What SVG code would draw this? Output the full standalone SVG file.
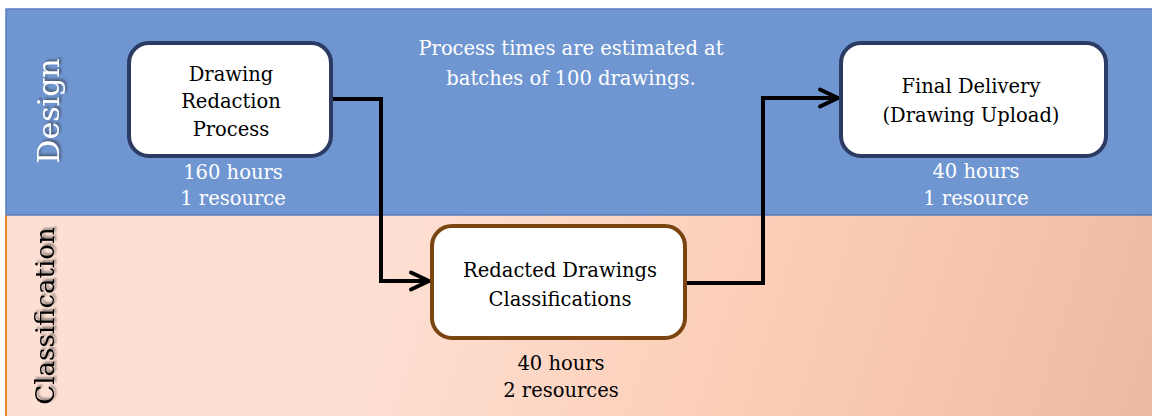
<svg xmlns="http://www.w3.org/2000/svg" width="1152" height="416" viewBox="0 0 1152 416">
  <defs>
    <linearGradient id="classGrad" gradientUnits="userSpaceOnUse" x1="380" y1="230" x2="1152" y2="470">
      <stop offset="0" stop-color="#FDE0D4"/>
      <stop offset="0.5" stop-color="#FCCDB5"/>
      <stop offset="1" stop-color="#EBB9A2"/>
    </linearGradient>
    <filter id="shadow" x="-20%" y="-20%" width="140%" height="140%">
      <feDropShadow dx="2" dy="2" stdDeviation="1.2" flood-color="#333333" flood-opacity="0.6"/>
    </filter>
    <marker id="arrow" viewBox="0 0 24 24" refX="21" refY="12" markerWidth="24" markerHeight="24" markerUnits="userSpaceOnUse" orient="auto">
      <path d="M3,3.5 L21,12 L3,20.5" fill="none" stroke="#000" stroke-width="4" stroke-linecap="round" stroke-linejoin="round"/>
    </marker>
  </defs>
  <style>
    .txt { font-family: "DejaVu Serif", "Liberation Serif", serif; font-size: 19.5px; text-anchor: middle; }
    .white { fill: #FFFFFF; }
    .black { fill: #000000; }
    .node { fill: #FFFFFF; stroke-width: 4; }
    .navy { stroke: #2C3B63; }
    .brown { stroke: #7A4511; }
    .conn { fill: none; stroke: #000; stroke-width: 4; stroke-linejoin: miter; }
    .lane { font-family: "DejaVu Serif", "Liberation Serif", serif; text-anchor: middle; }
  </style>
  <rect x="0" y="0" width="1152" height="416" fill="#FFFFFF"/>
  <g id="lane-design">
    <rect x="6" y="9" width="1148" height="206" fill="#6F96D1" stroke="#5B7DBD" stroke-width="1.5"/>
    <text class="lane white" font-size="30" transform="translate(59,111) rotate(-90)" filter="url(#shadow)">Design</text>
  </g>
  <g id="lane-classification">
    <rect x="6" y="215" width="1148" height="203" fill="url(#classGrad)"/>
    <line x1="6" y1="215" x2="6" y2="416" stroke="#E8862A" stroke-width="2"/>
    <line x1="6" y1="215" x2="1152" y2="215" stroke="#5B7DBD" stroke-width="1.5"/>
    <text class="lane black" font-size="26" transform="translate(54,316) rotate(-90)" filter="url(#shadow)">Classification</text>
  </g>
  <g id="note">
    <text class="txt white" x="571" y="55">Process times are estimated at</text>
    <text class="txt white" x="571" y="85">batches of 100 drawings.</text>
  </g>
  <g id="connectors">
    <polyline class="conn" points="332,99 381,99 381,281 429,281" marker-end="url(#arrow)"/>
    <polyline class="conn" points="686,283 763,283 763,98 838,98" marker-end="url(#arrow)"/>
  </g>
  <g id="node-redaction">
    <rect class="node navy" x="129" y="43" width="202" height="113" rx="20"/>
    <text class="txt black" x="231" y="81">Drawing</text>
    <text class="txt black" x="231" y="108">Redaction</text>
    <text class="txt black" x="231" y="136">Process</text>
    <text class="txt white" x="233" y="179">160 hours</text>
    <text class="txt white" x="233" y="205">1 resource</text>
  </g>
  <g id="node-classifications">
    <rect class="node brown" x="432" y="226" width="253" height="112" rx="20"/>
    <text class="txt black" x="560" y="277">Redacted Drawings</text>
    <text class="txt black" x="560" y="306">Classifications</text>
    <text class="txt black" x="561" y="370">40 hours</text>
    <text class="txt black" x="561" y="397">2 resources</text>
  </g>
  <g id="node-delivery">
    <rect class="node navy" x="841" y="43" width="265" height="113" rx="20"/>
    <text class="txt black" x="971" y="93">Final Delivery</text>
    <text class="txt black" x="971" y="122">(Drawing Upload)</text>
    <text class="txt white" x="976" y="178">40 hours</text>
    <text class="txt white" x="976" y="205">1 resource</text>
  </g>
</svg>
